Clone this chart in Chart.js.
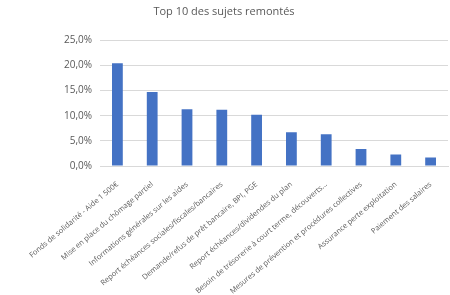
<!DOCTYPE html>
<html>
<head>
<meta charset="utf-8">
<script src="https://cdn.jsdelivr.net/npm/chart.js"></script>
<style>
  html, body { margin: 0; padding: 0; background: #fff; }
  #wrap { width: 450px; height: 295px; }
</style>
</head>
<body>
<div id="wrap"><canvas id="sujetsChart" width="450" height="295"></canvas></div>
<script>
  // categories and values (share of requests, %)
  const sujets = [
    "Fonds de solidarité - Aide 1 500€",
    "Mise en place du chômage partiel",
    "Informations générales sur les aides",
    "Report échéances sociales/fiscales/bancaires",
    "Demande/refus de prêt bancaire, BPI, PGE",
    "Report échéances/dividendes du plan",
    "Besoin de trésorerie à court terme, découverts...",
    "Mesures de prévention et procédures collectives",
    "Assurance perte exploitation",
    "Paiement des salaires"
  ];
  const parts = [20.4, 14.7, 11.3, 11.2, 10.2, 6.7, 6.3, 3.4, 2.3, 1.7];
  const yTicks = [0, 5, 10, 15, 20, 25];

  const grey = "#595959";
  const fontFamily = "'Open Sans', sans-serif";

  const ctx = document.getElementById("sujetsChart").getContext("2d");
  new Chart(ctx, {
    type: "bar",
    data: {
      labels: sujets,
      datasets: [{
        label: "Part",
        data: parts,
        backgroundColor: "#4472c4",
        borderWidth: 0,
        barPercentage: 1,
        categoryPercentage: 0.31
      }]
    },
    options: {
      responsive: false,
      animation: false,
      layout: { padding: { left: 0, right: 2, top: 0, bottom: 0 } },
      plugins: {
        legend: { display: false },
        tooltip: { enabled: false },
        title: {
          display: true,
          text: "Top 10 des sujets remontés",
          color: grey,
          font: { family: fontFamily, size: 11, weight: "normal" },
          padding: { top: 5, bottom: 22 }
        }
      },
      scales: {
        y: {
          min: yTicks[0],
          max: yTicks[yTicks.length - 1],
          afterFit: s => { s.width = 100; },
          ticks: {
            stepSize: 5,
            color: grey,
            font: { family: fontFamily, size: 10 },
            padding: 8,
            callback: v => v.toFixed(1).replace(".", ",") + "%"
          },
          grid: { color: "#d9d9d9", drawTicks: false },
          border: { display: false }
        },
        x: {
          afterFit: s => { s.height = 129; },
          ticks: {
            color: grey,
            font: { family: fontFamily, size: 7.5 },
            minRotation: 40,
            maxRotation: 40,
            autoSkip: false,
            padding: 6
          },
          grid: { display: false },
          border: { color: "#d9d9d9" }
        }
      }
    }
  });
</script>
</body>
</html>
